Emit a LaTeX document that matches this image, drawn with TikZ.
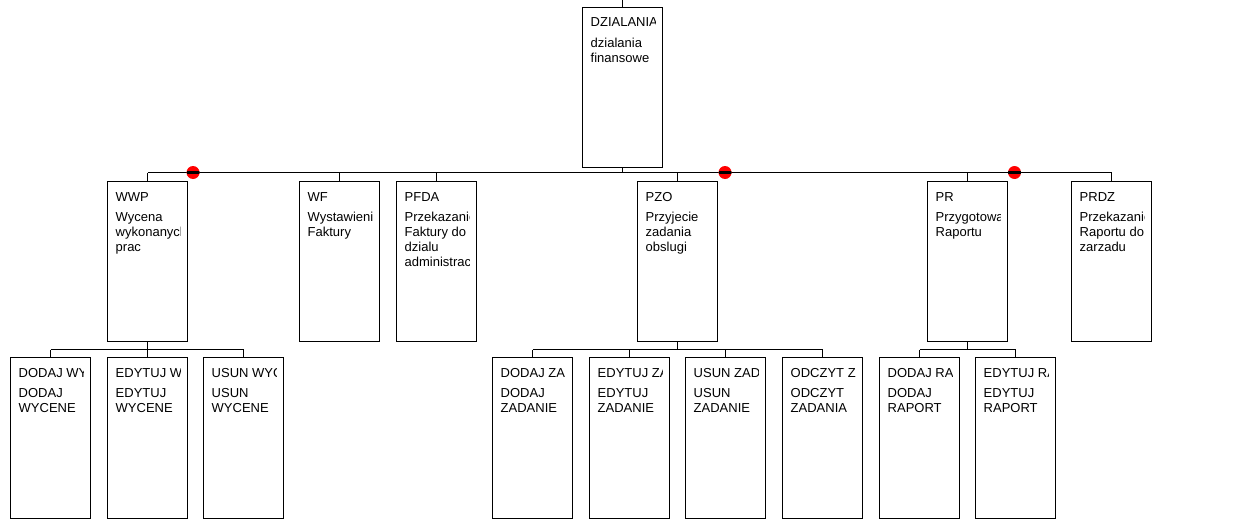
\documentclass[tikz,border=0pt]{standalone}
\usepackage{fontspec}
\setmainfont{Liberation Sans}
\tikzset{
  boxst/.style={draw, line width=1.2pt, minimum width=80pt, inner sep=0pt, outer sep=0pt, anchor=north west},
  txt/.style={inner sep=0pt, anchor=base west, font=\fontsize{13}{15}\selectfont},
  conn/.style={line width=1.2pt},
  stopmark/.style={circle, fill=red, minimum size=13pt, inner sep=0pt,
    path picture={\fill[black] ([xshift=-6.5pt,yshift=-1.8pt]path picture bounding box.center) rectangle ([xshift=6.5pt,yshift=1.8pt]path picture bounding box.center);}}
}
\newcommand\orgbox[6]{%
  \node[boxst, minimum height=#4pt] (#1) at (#2,#3) {};
  \begin{scope}
    \clip (#2,#3) rectangle ({#2+73},{#3+#4});
    \node[txt] at ({#2+8},{#3+19.5}) {\makebox[64pt][l]{#5}};
    \foreach \l [count=\i] in {#6} {\node[txt] at ({#2+8},{#3+24.5+15*\i}) {\makebox[64pt][l]{\l}};}
  \end{scope}}
\begin{document}
\begin{tikzpicture}[x=1pt,y=-1pt]
\useasboundingbox (0,0) rectangle (1244,530);
% level 1
\orgbox{top}{582.5}{7.5}{160}{DZIALANIA}{dzialania,finansowe}
% level 2
\orgbox{wwp}{107.5}{181.5}{160}{WWP}{Wycena,wykonanych,prac}
\orgbox{wf}{299.5}{181.5}{160}{WF}{Wystawienie,Faktury}
\orgbox{pfda}{396.5}{181.5}{160}{PFDA}{Przekazanie,Faktury do,dzialu,administracji}
\orgbox{pzo}{637.5}{181.5}{160}{PZO}{Przyjecie,zadania,obslugi}
\orgbox{pr}{927.5}{181.5}{160}{PR}{Przygotowanie,Raportu}
\orgbox{prdz}{1071.5}{181.5}{160}{PRDZ}{Przekazanie,Raportu do,zarzadu}
% level 3
\orgbox{dw}{10.5}{357.5}{161}{DODAJ WY}{DODAJ,WYCENE}
\orgbox{ew}{107.5}{357.5}{161}{EDYTUJ W}{EDYTUJ,WYCENE}
\orgbox{uw}{203.5}{357.5}{161}{USUN WYC}{USUN,WYCENE}
\orgbox{dz}{492.5}{357.5}{161}{DODAJ ZA}{DODAJ,ZADANIE}
\orgbox{ez}{589.5}{357.5}{161}{EDYTUJ ZA}{EDYTUJ,ZADANIE}
\orgbox{uz}{685.5}{357.5}{161}{USUN ZAD}{USUN,ZADANIE}
\orgbox{oz}{782.5}{357.5}{161}{ODCZYT Z}{ODCZYT,ZADANIA}
\orgbox{dr}{879.5}{357.5}{161}{DODAJ RA}{DODAJ,RAPORT}
\orgbox{er}{975.5}{357.5}{161}{EDYTUJ RA}{EDYTUJ,RAPORT}
% bus coordinates
\coordinate (topend) at (622.5,0);
\coordinate (bus1) at (0,172.5);
\coordinate (bus2) at (0,349.5);
% connectors level 1 -> 2
\draw[conn] (top.north) -- (topend);
\draw[conn] (top.south) -- (top.south |- bus1);
\draw[conn] (wwp.north |- bus1) -- (prdz.north |- bus1);
\foreach \n in {wwp,wf,pfda,pzo,pr,prdz} {\draw[conn] (\n.north) -- (\n.north |- bus1);}
% connectors level 2 -> 3
\draw[conn] (wwp.south) -- (wwp.south |- bus2);
\draw[conn] (dw.north |- bus2) -- (uw.north |- bus2);
\foreach \n in {dw,ew,uw} {\draw[conn] (\n.north) -- (\n.north |- bus2);}
\draw[conn] (pzo.south) -- (pzo.south |- bus2);
\draw[conn] (dz.north |- bus2) -- (oz.north |- bus2);
\foreach \n in {dz,ez,uz,oz} {\draw[conn] (\n.north) -- (\n.north |- bus2);}
\draw[conn] (pr.south) -- (pr.south |- bus2);
\draw[conn] (dr.north |- bus2) -- (er.north |- bus2);
\foreach \n in {dr,er} {\draw[conn] (\n.north) -- (\n.north |- bus2);}
% markers
\node[stopmark] (m1) at (193,172.5) {};
\node[stopmark] (m2) at (725,172.5) {};
\node[stopmark] (m3) at (1014.5,172.5) {};
\end{tikzpicture}
\end{document}
